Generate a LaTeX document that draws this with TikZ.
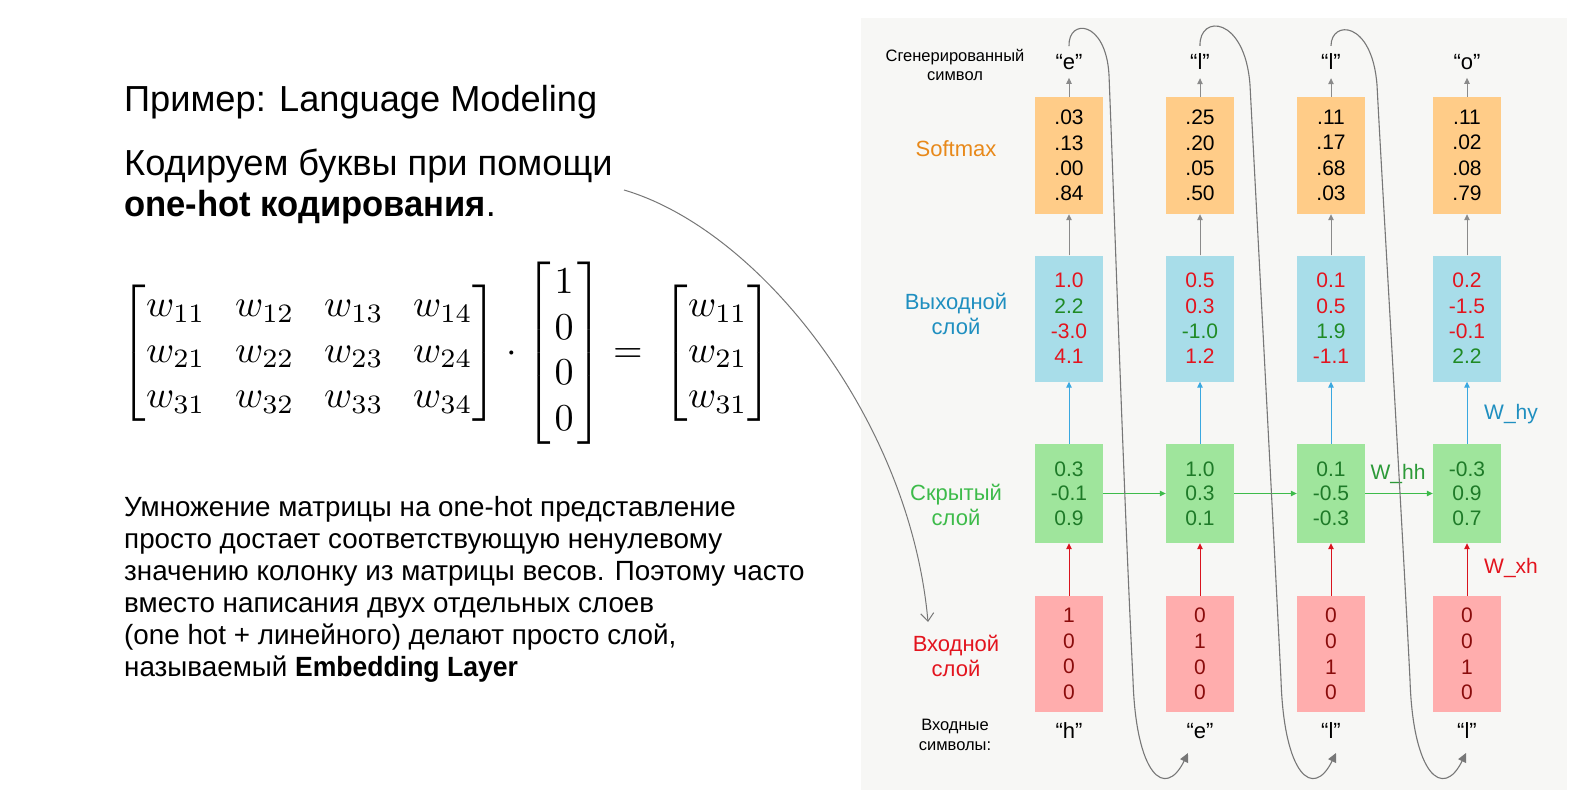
\documentclass[tikz,border=0pt]{standalone}
\usepackage[no-math]{fontspec}
\setmainfont{Liberation Sans}
\usepackage{amsmath}
\usetikzlibrary{arrows.meta}

\definecolor{panelbg}{HTML}{F7F7F5}
\definecolor{smfill}{HTML}{FFCC88}
\definecolor{outfill}{HTML}{A8DDE9}
\definecolor{hidfill}{HTML}{9FE59C}
\definecolor{infill}{HTML}{FFADAD}
\definecolor{smlbl}{HTML}{E8891A}
\definecolor{outlbl}{HTML}{1F8FC0}
\definecolor{hidlbl}{HTML}{3DBB4A}
\definecolor{inlbl}{HTML}{E3141E}
\definecolor{valred}{HTML}{E3141E}
\definecolor{valgreen}{HTML}{1F8A25}
\definecolor{hidtxt}{HTML}{1E7A28}
\definecolor{intxt}{HTML}{8A0C0C}
\definecolor{arrgray}{HTML}{8A8A8A}
\definecolor{curvgray}{HTML}{777777}
\definecolor{bluearr}{HTML}{3AA8E0}
\definecolor{greenarr}{HTML}{3DBB4A}
\definecolor{redarr}{HTML}{D9141E}
\definecolor{whh}{HTML}{2C9A38}

\newcommand{\vr}[1]{\textcolor{valred}{#1}}
\newcommand{\vg}[1]{\textcolor{valgreen}{#1}}
\newcommand{\vpad}[1]{\hspace{1pt}#1\hspace{1pt}}
% slightly narrowed bold, closer to a medium weight
\newcommand{\medbf}[1]{\scalebox{0.955}[1]{\textbf{#1}}}

\begin{document}
\begin{tikzpicture}[x=1pt,y=-1pt,
  cell/.style={minimum width=68pt, inner sep=0pt, align=center},
  smbox/.style={cell, fill=smfill, minimum height=117pt, font=\fontsize{21}{25.3}\selectfont},
  outbox/.style={cell, fill=outfill, minimum height=126pt, font=\fontsize{21}{25.3}\selectfont},
  hidbox/.style={cell, fill=hidfill, minimum height=99pt, text=hidtxt, font=\fontsize{21}{24.5}\selectfont},
  inbox/.style={cell, fill=infill, minimum height=116pt, text=intxt, font=\fontsize{21}{25.6}\selectfont},
  symb/.style={inner xsep=2pt, inner ysep=8pt, font=\fontsize{22}{26}\selectfont},
  rowlbl/.style={align=center, inner sep=0pt, font=\fontsize{22}{25}\selectfont},
  tinylbl/.style={align=center, inner sep=0pt, font=\fontsize{16.5}{19.5}\selectfont},
  wlbl/.style={inner sep=0pt, font=\fontsize{21}{25}\selectfont},
  arr/.style={-{Triangle[length=6pt,width=5.5pt]}, line width=1pt},
  grayarr/.style={arr, draw=arrgray, fill=arrgray},
  bluearrow/.style={arr, draw=bluearr, fill=bluearr},
  greenarrow/.style={arr, draw=greenarr, fill=greenarr},
  redarrow/.style={arr, draw=redarr, fill=redarr},
  loopback/.style={draw=curvgray, line width=1.1pt, -{Triangle[length=9pt,width=8.5pt]}},
  bodytext/.style={anchor=north west, inner sep=0pt, align=left}
]
% page and panel
\useasboundingbox (0,0) rectangle (1574,800);
\fill[white] (0,0) rectangle (1574,800);
\fill[panelbg] (861,18) rectangle (1567,790);

% ---------- left column: text and formula ----------
\node[anchor=base west, inner sep=0pt, font=\fontsize{36.2}{40}\selectfont] (title) at (124,111.5) {Пример: Language Modeling};
\node[bodytext, font=\fontsize{36.2}{41}\selectfont] (intro) at (124,149)
  {Кодируем буквы при помощи\\\medbf{one-hot кодирования}.};
\coordinate (introtail) at (624,190);

\node[anchor=west, inner sep=0pt, scale=3.8, transform shape] (eq) at (120,353)
  {$\setlength{\arraycolsep}{3.9pt}\begin{bmatrix} w_{11} & w_{12} & w_{13} & w_{14}\\ w_{21} & w_{22} & w_{23} & w_{24}\\ w_{31} & w_{32} & w_{33} & w_{34}\end{bmatrix}
    \cdot \setlength{\arraycolsep}{5pt}\begin{bmatrix}\vpad{1}\\\vpad{0}\\\vpad{0}\\\vpad{0}\end{bmatrix} = \hspace{2.5pt}\begin{bmatrix} w_{11}\\ w_{21}\\ w_{31}\end{bmatrix}$};

\node[bodytext, font=\fontsize{27.8}{32}\selectfont] (para) at (124,496)
  {Умножение матрицы на one-hot представление\\
   просто достает соответствующую ненулевому\\
   значению колонку из матрицы весов. Поэтому часто\\
   вместо написания двух отдельных слоев\\
   (one hot + линейного) делают просто слой,\\
   называемый \medbf{Embedding Layer}};

% ---------- right panel: unrolled RNN ----------
% row labels
\node[tinylbl] (lgen) at (955,65) {Сгенерированный\\символ};
\node[rowlbl, text=smlbl] (lsm) at (956,149) {Softmax};
\node[rowlbl, text=outlbl] (lout) at (956,313.5) {Выходной\\слой};
\node[rowlbl, text=hidlbl] (lhid) at (956,504.5) {Скрытый\\слой};
\node[rowlbl, text=inlbl] (lin) at (956,656) {Входной\\слой};
\node[tinylbl] (lsym) at (955,735) {Входные\\символы:};

% softmax layer
\node[smbox] (s1) at (1069,155.5) {.03\\.13\\.00\\.84};
\node[smbox] (s2) at (1200,155.5) {.25\\.20\\.05\\.50};
\node[smbox] (s3) at (1331,155.5) {.11\\.17\\.68\\.03};
\node[smbox] (s4) at (1467,155.5) {.11\\.02\\.08\\.79};

% output layer
\node[outbox] (y1) at (1069,318.5) {\vr{1.0}\\\vg{2.2}\\\vr{-3.0}\\\vr{4.1}};
\node[outbox] (y2) at (1200,318.5) {\vr{0.5}\\\vr{0.3}\\\vg{-1.0}\\\vr{1.2}};
\node[outbox] (y3) at (1331,318.5) {\vr{0.1}\\\vr{0.5}\\\vg{1.9}\\\vr{-1.1}};
\node[outbox] (y4) at (1467,318.5) {\vr{0.2}\\\vr{-1.5}\\\vr{-0.1}\\\vg{2.2}};

% hidden layer
\node[hidbox] (h1) at (1069,493.5) {0.3\\-0.1\\0.9};
\node[hidbox] (h2) at (1200,493.5) {1.0\\0.3\\0.1};
\node[hidbox] (h3) at (1331,493.5) {0.1\\-0.5\\-0.3};
\node[hidbox] (h4) at (1467,493.5) {-0.3\\0.9\\0.7};

% input layer
\node[inbox] (x1) at (1069,654) {1\\0\\0\\0};
\node[inbox] (x2) at (1200,654) {0\\1\\0\\0};
\node[inbox] (x3) at (1331,654) {0\\0\\1\\0};
\node[inbox] (x4) at (1467,654) {0\\0\\1\\0};

% generated symbols
\node[symb] (o1) at (1069,62) {“e”};
\node[symb] (o2) at (1200,62) {“l”};
\node[symb] (o3) at (1331,62) {“l”};
\node[symb] (o4) at (1467,62) {“o”};

% input symbols
\node[symb] (c1) at (1069,731) {“h”};
\node[symb] (c2) at (1200,731) {“e”};
\node[symb] (c3) at (1331,731) {“l”};
\node[symb] (c4) at (1467,731) {“l”};

% weight labels
\node[wlbl, text=outlbl] (why) at (1511,414) {W\_hy};
\node[wlbl, text=whh] (whhl) at (1398,474) {W\_hh};
\node[wlbl, text=inlbl] (wxh) at (1511,568) {W\_xh};

% vertical connections
\foreach \i in {1,2,3,4}{
  \draw[grayarr] (s\i.north) -- (o\i.south);
  \draw[grayarr] (y\i.north) -- (s\i.south);
  \draw[bluearrow] (h\i.north) -- (y\i.south);
  \draw[redarrow] (x\i.north) -- (h\i.south);
}
% recurrent connections
\draw[greenarrow] (h1.east) -- (h2.west);
\draw[greenarrow] (h2.east) -- (h3.west);
\draw[greenarrow] (h3.east) -- (h4.west);

% each generated symbol is fed back as the next input
\coordinate (t2) at (1188,753);
\coordinate (t3) at (1336,753);
\coordinate (t4) at (1466,753);
\draw[loopback] (o1.north) .. controls (1068,18) and (1106,20) .. (1109,75)
  .. controls (1114,200) and (1124,500) .. (1133,680)
  .. controls (1136,775) and (1165,800) .. (t2);
\draw[loopback] (o2.north) .. controls (1199,14) and (1245,16) .. (1250,85)
  .. controls (1256,200) and (1272,500) .. (1281,680)
  .. controls (1284,775) and (1313,800) .. (t3);
\draw[loopback] (o3.north) .. controls (1331,20) and (1372,20) .. (1377,85)
  .. controls (1383,200) and (1401,500) .. (1410,680)
  .. controls (1413,775) and (1443,800) .. (t4);

% pointer from the one-hot text to the input layer
\coordinate (intip) at (928,622);
\draw[draw=curvgray, line width=1pt, -{Straight Barb[length=8pt,width=13pt]}]
  (introtail) .. controls (760,230) and (910,420) .. (intip);
\end{tikzpicture}
\end{document}
